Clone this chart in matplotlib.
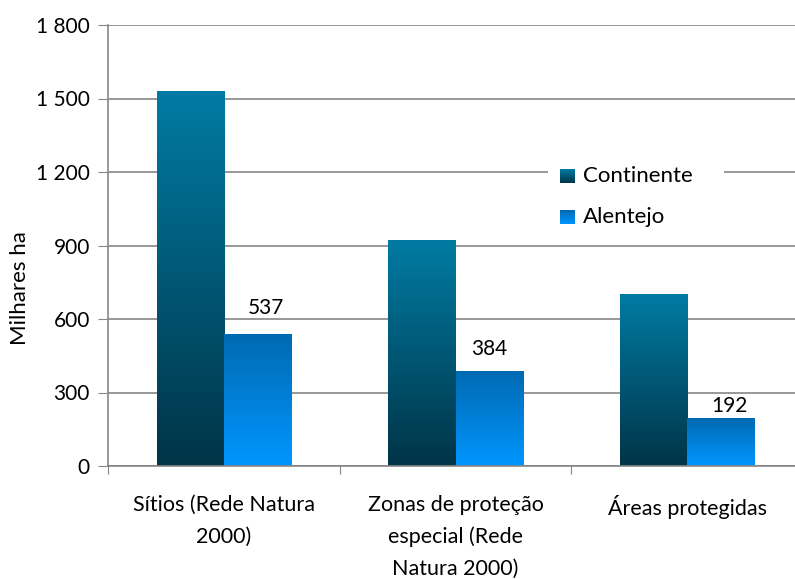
import numpy as np
import matplotlib
matplotlib.use("Agg")
import matplotlib.pyplot as plt
from matplotlib.colors import LinearSegmentedColormap

categories = ["Sítios (Rede Natura\n2000)",
              "Zonas de proteção\nespecial (Rede\nNatura 2000)",
              "Áreas protegidas"]
continente = [1527, 922, 702]
alentejo = [537, 384, 192]
series_names = ["Continente", "Alentejo"]
yticks = [0, 300, 600, 900, 1200, 1500, 1800]
ytick_labels = ["0", "300", "600", "900", "1 200", "1 500", "1 800"]

plt.rcParams["font.family"] = ["Lato", "DejaVu Sans"]

grey = "#868686"
cont_cmap = LinearSegmentedColormap.from_list("cont", ["#003447", "#007ba3"])
alen_cmap = LinearSegmentedColormap.from_list("alen", ["#0096ff", "#006ab2"])
grad = np.linspace(0, 1, 256).reshape(-1, 1)

fig = plt.figure(figsize=(7.95, 5.79), dpi=100)
ax = fig.add_axes([108 / 795, 1 - 466 / 579, 695 / 795, 441 / 579])

x = np.arange(len(categories))
w = 0.29


def grad_bars(xs, vals, cmap):
    bars = ax.bar(xs, vals, width=w, align="edge", color="none", zorder=2)
    for b in bars:
        x0, h = b.get_x(), b.get_height()
        ax.imshow(grad, cmap=cmap, origin="lower", aspect="auto",
                  extent=(x0, x0 + b.get_width(), 0, h), zorder=2)
    return bars


grad_bars(x - w, continente, cont_cmap)
alen_bars = grad_bars(x, alentejo, alen_cmap)

# data labels (only Alentejo)
label_offsets = [(6, 12), (0, 9), (6, 2)]
for b, v, (dx, dy) in zip(alen_bars, alentejo, label_offsets):
    ax.annotate(str(v), (b.get_x() + b.get_width() / 2, b.get_height()),
                xytext=(dx, dy), textcoords="offset points",
                ha="center", va="bottom", fontsize=15, zorder=4)

ax.set_xlim(-0.5, 2.5)
ax.set_ylim(0, 1800)
ax.set_yticks(yticks)
ax.set_yticklabels(ytick_labels)
ax.set_xticks([-0.5, 0.5, 1.5, 2.5])
ax.set_xticklabels([])
ax.set_xticks(x, minor=True)
ax.set_xticklabels(categories, minor=True, linespacing=1.7)
ax.tick_params(axis="x", which="minor", length=0, pad=21, labelsize=15.5)
ax.tick_params(axis="x", which="major", length=6, color=grey)
ax.tick_params(axis="y", length=7, color=grey, labelsize=15, pad=6)
ax.yaxis.grid(True, color=grey, lw=1.2)
ax.set_axisbelow(True)
for s in ["top", "right"]:
    ax.spines[s].set_visible(False)
for s in ["left", "bottom"]:
    ax.spines[s].set_color(grey)
    ax.spines[s].set_linewidth(1.2)
ax.set_ylabel("Milhares ha", fontsize=16, va="center")
ax.yaxis.set_label_coords(-0.127, 0.404)

# legend box drawn in pixel units
lax = fig.add_axes([548 / 795, 1 - 235 / 579, 176 / 795, 80 / 579])
lax.set_xticks([])
lax.set_yticks([])
for s in lax.spines.values():
    s.set_visible(False)
lax.set_facecolor("white")
for name, cmap, yc in zip(series_names, [cont_cmap, alen_cmap], [59, 18]):
    lax.imshow(grad, cmap=cmap, origin="lower", aspect="auto",
               extent=(12, 27, yc - 7, yc + 7))
    lax.text(35, yc, name, fontsize=16, va="center", ha="left")
lax.set_xlim(0, 176)
lax.set_ylim(0, 80)

fig.savefig("out.png", dpi=100)
